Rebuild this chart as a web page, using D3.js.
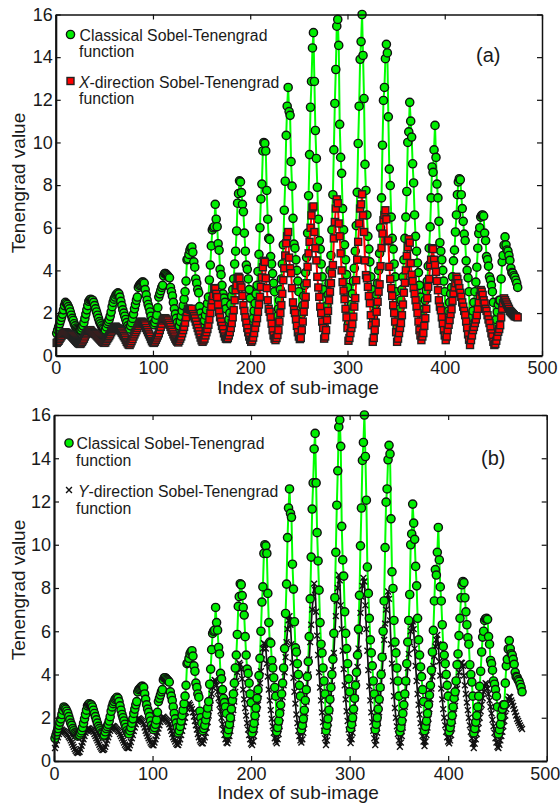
<!DOCTYPE html>
<html>
<head>
<meta charset="utf-8">
<script src="https://cdn.jsdelivr.net/npm/d3@7/dist/d3.min.js"></script>
<style>
html, body { margin: 0; padding: 0; background: #fff; }
svg { display: block; }
text { font-family: "Liberation Sans", Arial, sans-serif; fill: #1a1a1a; }
</style>
</head>
<body>
<svg id="chart" width="560" height="805"></svg>
<script>
// values, one row per 25 sub-images
const classical = [
    1.05,1.2,1.35,1.5,1.65,1.8,1.95,2.15,2.35,2.5,2.45,2.4,2.3,2.2,2.05,1.9,1.75,1.65,1.5,1.4,1.3,1.25,1.2,1.15,1.2,
    1.2,1.3,1.4,1.55,1.75,1.95,2.15,2.35,2.55,2.62,2.65,2.6,2.6,2.5,2.35,2.2,2.05,1.9,1.75,1.6,1.5,1.4,1.3,1.25,1.15,
    1.2,1.35,1.5,1.6,1.7,1.85,2.05,2.3,2.5,2.65,2.75,2.85,2.9,2.95,2.9,2.75,2.55,2.35,2.15,2,1.85,1.7,1.55,1.4,1.3,
    1.25,1.4,1.55,1.75,1.95,2.2,2.4,2.6,2.75,3.2,3.3,3.35,3.4,3.45,3.45,3.4,3.1,2.85,2.6,2.4,2.25,2.05,1.85,1.65,1.5,
    1.45,1.55,1.7,1.9,2.25,2.75,2.9,3.05,3.2,3.3,3.75,3.85,3.85,3.8,3.75,3.7,3.65,3.2,3,2.8,2.5,2.2,1.95,1.75,1.55,
    1.3,1.4,1.6,1.85,2.1,2.35,2.65,3,3.5,4.5,4.55,4.75,4.95,5.05,5.1,4.85,4.4,4.15,3.6,3.4,3.1,2.95,2.3,2,1.75,
    1.4,1.5,1.65,1.9,2.15,2.45,2.75,3.55,4.25,5.15,5.9,6,6.05,7.1,6.4,6.05,5.25,4.95,4.05,3.8,3.3,2.9,2.7,2.5,2.2,
    1.25,1.45,1.7,2,2.4,2.8,3.1,3.6,4.3,4.9,5.85,7.15,7.6,8.2,8.15,7.65,7.1,6.75,5.75,4.9,4.25,4.05,3.6,3.1,2.7,
    1.3,1.5,1.75,2.1,2.45,2.9,3.3,3.95,4.75,6,7.35,8.05,9.6,10,9.95,9.6,7.75,6.4,5.5,5.45,4.65,4.3,3.85,3.4,3,
    1.35,1.55,1.85,2.2,2.6,3.1,3.6,4.3,5.2,6.82,8.18,10.33,11.7,12.58,11.45,11.27,9.1,7.95,6.44,5.23,5.04,4.5,4,3.5,3,
    1.45,1.65,1.95,2.35,2.8,3.3,3.9,4.6,5.75,7.5,9.43,11.65,12.86,14.43,15.15,12.86,10.56,9.25,7.9,6.4,5.4,5,4.3,3.7,3.1,
    1.4,1.65,1.95,2.35,2.85,3.4,4,4.7,5.9,7.55,9.65,11.83,13.42,15.45,15.77,14.55,10.85,9.3,8.55,6.9,5.9,5.2,4.5,3.8,3.2,
    1.5,1.7,2,2.4,2.9,3.5,4.1,4.9,6.1,7.66,9.95,11.7,13.9,14.73,16,14.08,12.06,8.97,7.75,6.6,5.6,5,4.4,3.7,3.1,
    1.45,1.7,2,2.4,2.85,3.4,4,4.8,6,7.4,9.87,11.97,12.58,13.93,14.6,14.2,11.2,8.75,7.98,6.5,5.5,5,4.3,3.7,3,
    1.35,1.55,1.85,2.2,2.6,3.1,3.7,4.5,5.5,6.5,7.7,10,10.5,11.88,11,10.25,9,8.1,6.6,5.6,4.9,4.35,3.9,3.3,2.75,
    1.4,1.6,1.85,2.2,2.6,3.05,3.5,4.2,5.04,6.04,7.4,8.85,8.6,9.65,10.8,9.3,8.05,7.4,6.3,5.3,4.9,4.5,4,3.5,3,
    1.35,1.55,1.8,2.1,2.5,2.9,3.2,3.7,4.45,4.95,5.8,6.6,7.55,8.15,8.3,8.25,7.55,6.9,6.3,5.7,5.4,4.45,4,3.65,3,
    1.3,1.5,1.8,2.1,2.5,3,3.45,4.15,5.04,5.73,6,6.5,6.58,6.6,6.55,5.75,5.4,4.65,4.5,4.2,3.7,3.55,3.3,3,2.5,
    1.25,1.45,1.7,2.05,2.4,2.6,2.6,3.6,4.4,4.7,5.18,5.57,5.2,4.96,4.9,4.7,4.47,4.1,3.9,3.87,3.75,3.68,3.54,3.4,3.2
];

const xDirection = [
    .6,.65,.7,.78,.85,.92,1,1.05,1.08,1.1,1.08,1.05,1.02,1,.98,.95,.9,.85,.8,.75,.7,.65,.6,.57,.55,
    .58,.65,.72,.8,.9,1,1.08,1.15,1.18,1.2,1.18,1.12,1.08,1.05,1.03,1,.95,.9,.85,.8,.75,.7,.65,.62,.6,
    .62,.7,.78,.85,.92,1,1.1,1.18,1.25,1.3,1.36,1.35,1.3,1.28,1.25,1.2,1.15,1.08,1,.92,.85,.75,.65,.58,.52,
    .5,.58,.68,.78,.9,1,1.1,1.2,1.3,1.4,1.5,1.55,1.6,1.58,1.55,1.5,1.42,1.3,1.2,1.1,1,.9,.78,.68,.62,
    .6,.66,.75,.85,.95,1.05,1.2,1.35,1.5,1.65,1.72,1.76,1.74,1.7,1.65,1.55,1.45,1.35,1.22,1.12,1,.9,.8,.72,.66,
    .62,.7,.8,.9,1.05,1.2,1.35,1.55,1.8,2.05,2.2,2.2,2.18,2.15,2.2,1.95,1.85,1.75,1.6,1.45,1.3,1.15,1,.85,.72,
    .65,.72,.8,.95,1.1,1.25,1.45,1.7,2,2.3,2.6,2.8,3.17,3.15,2.9,2.75,2.4,2.05,1.8,1.6,1.4,1.25,1.05,.9,.8,
    .78,.83,.95,1.1,1.3,1.53,1.8,2.14,2.6,3.07,3.3,3.63,3.7,3.63,3.3,3.2,2.8,2.37,2.1,1.8,1.55,1.3,1.1,.9,.75,
    .65,.72,.85,1.06,1.3,1.55,1.76,2.06,2.4,2.76,3.23,3.67,4.15,4.45,4.4,3.63,3.17,2.6,2.2,2.06,1.8,1.5,1.2,.95,.8,
    .73,.83,.97,1.2,1.6,2,2.37,2.9,3.54,4.1,4.7,5.27,5.6,5.8,4.6,4.1,3.87,3.17,2.5,2.15,2,1.7,1.4,1.1,.9,
    .78,.83,1.2,1.6,2.06,2.4,2.76,3.4,4.17,4.8,5.34,6,6.58,6.95,7,5.8,5.04,4.47,3.7,3.2,2.76,2.3,2,1.6,1.3,
    .8,.9,1.2,1.67,2.1,2.6,3,3.4,3.85,4.25,5.5,6.27,6.9,7.33,7.15,6.2,5.6,4.8,4,3.45,3.05,2.65,2.2,1.8,1.3,
    .7,.83,1.06,1.3,1.48,1.83,2.3,2.7,3.54,4.5,5.34,6.2,6.9,7.1,7.57,6.58,5.8,4.47,3.78,3.63,3.23,2.8,2.46,1.9,1.43,
    .65,.83,1.2,1.55,2.06,2.53,3,3.35,4.2,5.05,5.73,6.35,6.6,6.82,6.4,5.37,5.4,4.17,3.6,3.17,2.8,2.37,2,1.6,1.1,
    .65,.8,1.06,1.3,1.53,1.9,2.4,2.95,3.42,4,4.68,5.09,5.46,5.3,4.34,3.8,3.5,3.17,2.9,2.6,2.3,2,1.6,1.2,.95,
    .73,.9,1.06,1.4,1.76,2.2,2.7,3.23,3.6,4.25,4.5,5.04,5,4.5,4.25,3.93,3.5,3.07,2.6,2.3,2.13,1.8,1.5,1.2,.95,
    .73,.9,1.2,1.45,1.67,1.95,2.18,2.57,2.93,3.2,3.4,3.7,3.6,3.4,3.17,2.95,2.76,2.5,2.3,2.1,1.9,1.6,1.3,1,.75,
    .5,.73,.95,1.2,1.35,1.53,1.7,1.9,2.2,2.5,2.8,3.08,3,2.85,2.6,2.45,2.2,2.1,1.9,1.7,1.53,1.3,1.05,.9,.65,
    .5,.55,.7,.9,1.12,1.25,1.43,1.8,2.2,2.46,2.69,2.6,2.5,2.4,2.3,2.2,2.1,2.05,2,1.95,1.9,1.85,1.85,1.82,1.8
];

const yDirection = [
    .6,.75,.95,1.1,1.25,1.35,1.4,1.45,1.4,1.38,1.35,1.3,1.25,1.2,1.12,1.05,.95,.85,.75,.65,.55,.47,.4,.37,.4,
    .42,.55,.7,.85,1,1.15,1.3,1.4,1.5,1.52,1.5,1.45,1.42,1.4,1.35,1.25,1.15,1.05,.95,.85,.75,.65,.58,.52,.5,
    .55,.65,.8,.95,1.1,1.25,1.4,1.5,1.58,1.62,1.6,1.55,1.5,1.45,1.4,1.35,1.25,1.15,1.05,.95,.85,.75,.68,.62,.6,
    .6,.72,.88,1.05,1.2,1.38,1.55,1.7,1.85,1.95,1.98,1.95,1.9,1.85,1.8,1.7,1.55,1.4,1.28,1.15,1.05,.95,.85,.78,.74,
    .72,.85,1,1.15,1.3,1.5,1.65,1.8,1.95,2,2.05,2,1.95,1.9,1.85,1.8,1.7,1.55,1.4,1.25,1.1,1,.9,.8,.75,
    .74,.85,1,1.2,1.4,1.6,1.8,2,2.25,2.45,2.6,2.68,2.6,2.5,2.4,2.25,2.05,1.85,1.65,1.45,1.25,1.1,.95,.88,.82,
    .82,.95,1.1,1.3,1.55,1.8,2.1,2.45,2.8,3.1,3.4,3.65,3.75,3.7,3.5,3.2,2.9,2.6,2.3,2,1.7,1.45,1.2,1,.85,
    .82,.95,1.15,1.4,1.7,2,2.35,2.75,3.2,3.7,4.1,4.4,4.53,4.45,4.25,3.8,3.3,2.85,2.45,2.1,1.75,1.45,1.2,1,.8,
    .74,.9,1.15,1.45,1.8,2.2,2.6,3.1,3.6,4.15,4.7,5.2,5.45,5.4,5.2,4.5,3.9,3.3,2.8,2.35,1.95,1.6,1.3,1.05,.9,
    .82,1,1.25,1.6,2,2.45,2.95,3.5,4.1,4.8,5.5,6.1,6.5,6.7,6.3,5.4,4.55,3.85,3.2,2.65,2.15,1.75,1.4,1.15,.95,
    .85,1,1.3,1.7,2.2,2.75,3.3,4,4.7,5.5,6.3,7,7.6,8.2,7.9,6.9,5.8,4.9,4.1,3.4,2.8,2.25,1.8,1.4,1.05,
    .74,.95,1.3,1.75,2.3,2.9,3.5,4.2,5,5.85,6.7,7.4,8,8.6,8.35,7.2,6.1,5.1,4.25,3.5,2.85,2.3,1.85,1.45,1.1,
    .83,1,1.3,1.75,2.3,2.9,3.6,4.35,5.2,6,6.85,7.6,8.1,8.47,8.3,7.2,6.1,5.1,4.2,3.45,2.8,2.25,1.8,1.4,1.05,
    .74,.95,1.3,1.75,2.25,2.8,3.4,4.1,4.85,5.6,6.35,7,7.5,7.84,7.5,6.5,5.4,4.5,3.7,3,2.45,2,1.6,1.25,.95,
    .66,.85,1.15,1.55,2,2.5,3.05,3.65,4.3,4.95,5.5,6,6.3,6.45,6.1,5.2,4.4,3.7,3.1,2.6,2.15,1.75,1.4,1.15,.9,
    .69,.9,1.2,1.55,1.95,2.4,2.85,3.35,3.9,4.4,4.85,5.3,5.6,5.83,5.4,4.6,3.95,3.35,2.85,2.4,2,1.65,1.35,1.1,.9,
    .82,.95,1.2,1.5,1.85,2.2,2.55,2.95,3.35,3.75,4.1,4.4,4.55,4.53,4.4,3.95,3.5,3.1,2.7,2.35,2,1.65,1.35,1.05,.8,
    .6,.8,1,1.25,1.5,1.75,2,2.3,2.6,2.9,3.2,3.45,3.6,3.55,3.35,3.1,2.8,2.5,2.2,1.9,1.6,1.3,1.05,.85,.65,
    .6,.75,.95,1.15,1.35,1.6,1.85,2.1,2.4,2.65,2.85,2.98,2.95,2.8,2.7,2.55,2.4,2.25,2.1,1.95,1.85,1.75,1.65,1.55,1.48
];

const xTicks = [0, 100, 200, 300, 400, 500];
const yTicks = [0, 2, 4, 6, 8, 10, 12, 14, 16];

const GREEN = "#00ee00";
const LINE_GREEN = "#00ff00";
const RED = "#ff0000";
const R = 4.1;
const SQ = 7;
const CROSS = 24;

let svg = d3.select("svg#chart");

function drawPanel(conf) {
    let x = d3.scaleLinear().domain([0, 500]).range([conf.left, conf.right]);
    let y = d3.scaleLinear().domain([0, 16]).range([conf.bottom, conf.top]);
    let g = svg.append("g");

    let line = d3.line().x((d, i) => x(i + 1)).y(d => y(d));

    let drawLine = (values, color, width) => g.append("path")
        .attr("d", line(values))
        .attr("fill", "none")
        .attr("stroke", color)
        .attr("stroke-width", width);

    let drawCircles = () => g.append("g").selectAll("circle")
        .data(classical)
        .enter()
        .append("circle")
        .attr("cx", (d, i) => x(i + 1))
        .attr("cy", d => y(d))
        .attr("r", R)
        .attr("fill", GREEN)
        .attr("stroke", "#111")
        .attr("stroke-width", 1.4);

    drawLine(classical, LINE_GREEN, 2);

    if (conf.series == "x") {
        drawCircles();
        drawLine(xDirection, RED, 2);
        g.append("g").selectAll("rect")
            .data(xDirection)
            .enter()
            .append("rect")
            .attr("x", (d, i) => x(i + 1) - SQ / 2)
            .attr("y", d => y(d) - SQ / 2)
            .attr("width", SQ)
            .attr("height", SQ)
            .attr("fill", RED)
            .attr("stroke", "#222")
            .attr("stroke-width", 1.4);
    } else {
        drawLine(yDirection, "#111", 1.7);
        g.append("g").selectAll("path.cross")
            .data(yDirection)
            .enter()
            .append("path")
            .attr("class", "cross")
            .attr("d", d3.symbol().type(d3.symbolTimes).size(CROSS))
            .attr("transform", (d, i) => `translate(${x(i + 1)},${y(d)})`)
            .attr("fill", "none")
            .attr("stroke", "#111")
            .attr("stroke-width", 1.4);
        drawCircles();
    }

    // frame and ticks, all ticks point inwards
    let bottomAxis = d3.axisBottom(x).tickValues(xTicks).tickSize(-5).tickPadding(6).tickSizeOuter(0);
    let topAxis = d3.axisTop(x).tickValues(xTicks).tickSize(-5).tickFormat("").tickSizeOuter(0);
    let leftAxis = d3.axisLeft(y).tickValues(yTicks).tickSize(-5).tickPadding(3).tickSizeOuter(0);
    let rightAxis = d3.axisRight(y).tickValues(yTicks).tickSize(-5).tickFormat("").tickSizeOuter(0);

    let axes = [
        [topAxis, `translate(0,${conf.top})`, 1.5],
        [rightAxis, `translate(${conf.right},0)`, 1.5],
        [bottomAxis, `translate(0,${conf.bottom})`, 2.2],
        [leftAxis, `translate(${conf.left},0)`, 2.2],
    ];
    axes.forEach(([axis, transform, width]) => {
        let a = g.append("g").attr("transform", transform).call(axis);
        a.select(".domain").attr("stroke", "#111").attr("stroke-width", width);
        a.selectAll(".tick line").attr("stroke", "#111").attr("stroke-width", 1.2);
        a.selectAll(".tick text").style("font-family", '"Liberation Sans", Arial, sans-serif').style("font-size", "18px").attr("fill", "#1a1a1a");
    });
    // the last label sits right at the window edge
    g.selectAll(".tick text").filter(d => d == 500).attr("dx", conf.lastDx);

    g.append("text")
        .attr("x", conf.xLabel[0])
        .attr("y", conf.xLabel[1])
        .attr("text-anchor", "middle")
        .style("font-size", "19px")
        .text("Index of sub-image");

    g.append("text")
        .attr("transform", `translate(${conf.yLabel[0]},${conf.yLabel[1]}) rotate(-90)`)
        .attr("text-anchor", "middle")
        .style("font-size", "19px")
        .text("Tenengrad value");

    g.append("text")
        .attr("x", conf.tag[0])
        .attr("y", conf.tag[1])
        .style("font-size", "20px")
        .text(conf.tagText);

    // legend
    let lg = conf.legend;
    g.append("circle")
        .attr("cx", lg.circle[0])
        .attr("cy", lg.circle[1])
        .attr("r", R)
        .attr("fill", GREEN)
        .attr("stroke", "#111")
        .attr("stroke-width", 1.4);

    if (conf.series == "x") {
        g.append("rect")
            .attr("x", lg.other[0] - SQ / 2)
            .attr("y", lg.other[1] - SQ / 2)
            .attr("width", SQ)
            .attr("height", SQ)
            .attr("fill", RED)
            .attr("stroke", "#222")
            .attr("stroke-width", 1.4);
    } else {
        g.append("path")
            .attr("d", d3.symbol().type(d3.symbolTimes).size(CROSS))
            .attr("transform", `translate(${lg.other[0]},${lg.other[1]})`)
            .attr("fill", "none")
            .attr("stroke", "#111")
            .attr("stroke-width", 1.4);
    }

    let addText = (px, py, parts) => {
        let t = g.append("text").attr("x", px).attr("y", py).style("font-size", "15.8px");
        parts.forEach(p => t.append("tspan").style("font-style", p[1] ? "italic" : "normal").text(p[0]));
    };
    addText(lg.text1[0], lg.text1[1], [["Classical Sobel-Tenengrad"]]);
    addText(lg.func1[0], lg.func1[1], [["function"]]);
    addText(lg.text2[0], lg.text2[1], [[conf.series == "x" ? "X" : "Y", true], ["-direction Sobel-Tenengrad"]]);
    addText(lg.func2[0], lg.func2[1], [["function"]]);
}

drawPanel({
    series: "x", left: 55.7, right: 542, top: 14.5, bottom: 355.7, lastDx: 0,
    xLabel: [298, 394], yLabel: [25, 183], tag: [476, 62], tagText: "(a)",
    legend: { circle: [70.5, 34.5], other: [70.5, 81], text1: [79.5, 40.5], func1: [79, 57], text2: [79, 87.5], func2: [79, 104] },
});

drawPanel({
    series: "y", left: 54, right: 546.7, top: 415, bottom: 761, lastDx: -2,
    xLabel: [298, 799], yLabel: [25, 590], tag: [481, 465], tagText: "(b)",
    legend: { circle: [69, 443], other: [69, 490], text1: [76.5, 449], func1: [76, 465.5], text2: [78, 497], func2: [76, 513.5] },
});
</script>
</body>
</html>
